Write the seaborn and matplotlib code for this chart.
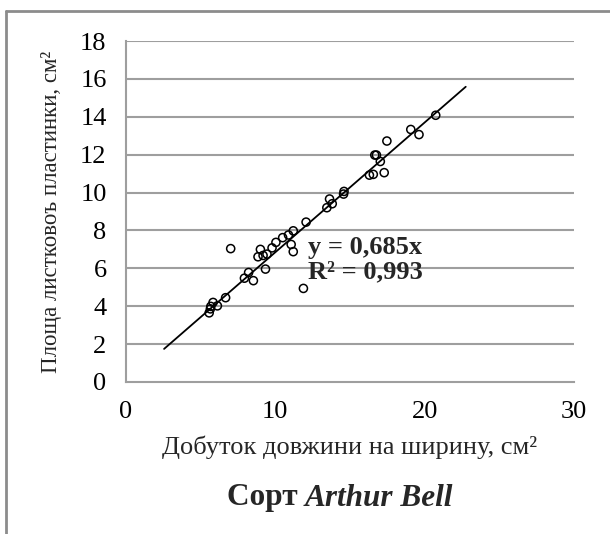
import matplotlib
matplotlib.use("Agg")
import matplotlib.pyplot as plt
import seaborn as sns
import numpy as np
import pandas as pd
from matplotlib.lines import Line2D

# ---- data ----
product_lw = [20.74, 19.07, 19.62, 17.47, 16.66, 16.77, 17.03, 17.29, 16.30, 16.56,
              14.60, 14.57, 13.63, 13.81, 13.45, 12.06, 11.20, 10.88, 10.49, 10.04,
              9.78, 11.06, 11.20, 9.44, 9.00, 8.84, 9.18, 7.01, 9.34, 8.21,
              7.93, 8.53, 11.88, 6.67, 5.83, 6.12, 5.68, 5.57, 5.65]
leaf_area = [14.08, 13.33, 13.06, 12.72, 11.98, 11.98, 11.64, 11.05, 10.92, 10.96,
             10.06, 9.92, 9.66, 9.41, 9.20, 8.44, 7.98, 7.76, 7.62, 7.37,
             7.08, 7.26, 6.88, 6.75, 7.00, 6.61, 6.68, 7.04, 5.96, 5.78,
             5.48, 5.35, 4.94, 4.45, 4.20, 4.02, 3.99, 3.65, 3.86]
slope = 0.685
trend_x = [2.55, 22.75]
x_ticks = [0, 10, 20, 30]
y_ticks = [0, 2, 4, 6, 8, 10, 12, 14, 16, 18]
eq_text = "y = 0,685x\nR² = 0,993"
x_label = "Добуток довжини на ширину, см²"
y_label = "Площа листковоъ пластинки, см²"
title_a = "Сорт "
title_b = "Arthur Bell"

sns.set_theme(style="white")
plt.rcParams['font.family'] = ['Liberation Serif', 'DejaVu Serif']

df = pd.DataFrame({"x": product_lw, "y": leaf_area})
trend = pd.DataFrame({"x": trend_x, "y": [slope * v for v in trend_x]})

fig = plt.figure(figsize=(6.10, 5.34), dpi=100)
ax = fig.add_axes([126/610, 1 - 382/534, (574-126)/610, (382-41)/534])

grid_c = "#9e9e9e"
for yt in y_ticks[1:]:
    ax.axhline(yt, color=grid_c, lw=1.5, zorder=0)

sns.lineplot(data=trend, x="x", y="y", ax=ax, color="black", lw=1.3, zorder=2)
sns.scatterplot(data=df, x="x", y="y", ax=ax, marker="o", s=34,
                facecolor="none", edgecolor="black", linewidth=1.1, zorder=3)

ax.set_xlim(0, 30)
ax.set_ylim(0, 18)
ax.set_xticks(x_ticks)
ax.set_yticks(y_ticks)
ax.tick_params(axis="both", labelsize=19, colors=grid_c, length=5, width=1.5,
               direction="out", labelcolor="black")
ax.tick_params(axis="y", pad=9)
ax.tick_params(axis="x", pad=9)
for s in ["top", "right"]:
    ax.spines[s].set_visible(False)
for s in ["left", "bottom"]:
    ax.spines[s].set_color(grid_c)
    ax.spines[s].set_linewidth(1.5)

ax.set_xlabel(x_label, fontsize=19, labelpad=9)
ax.set_ylabel(y_label, fontsize=16.5, labelpad=13)

ax.text(12.2, 6.45, eq_text, fontsize=19, fontweight="bold", va="center",
        ha="left", linespacing=1.05, zorder=4)

# title with bold + bold italic parts
fig.canvas.draw()
r = fig.canvas.get_renderer()
t1 = fig.text(0, 1 - 498/534, title_a, fontsize=22.5, fontweight="bold",
              va="center", ha="left")
t2 = fig.text(0, 1 - 498/534, title_b, fontsize=22.5, fontweight="bold",
              style="italic", va="center", ha="left")
w1 = t1.get_window_extent(r).width
w2 = t2.get_window_extent(r).width
start = (340 - (w1 + w2) / 2) / 610
t1.set_x(start)
t2.set_x(start + w1 / 610)

# partial figure frame (left and top edges)
fig.add_artist(Line2D([6/610, 6/610], [0, 1 - 11/534], color="#8c8c8c", lw=2,
                      transform=fig.transFigure))
fig.add_artist(Line2D([6/610, 1], [1 - 11/534, 1 - 11/534], color="#8c8c8c", lw=2,
                      transform=fig.transFigure))

fig.savefig("out.png", dpi=100)
